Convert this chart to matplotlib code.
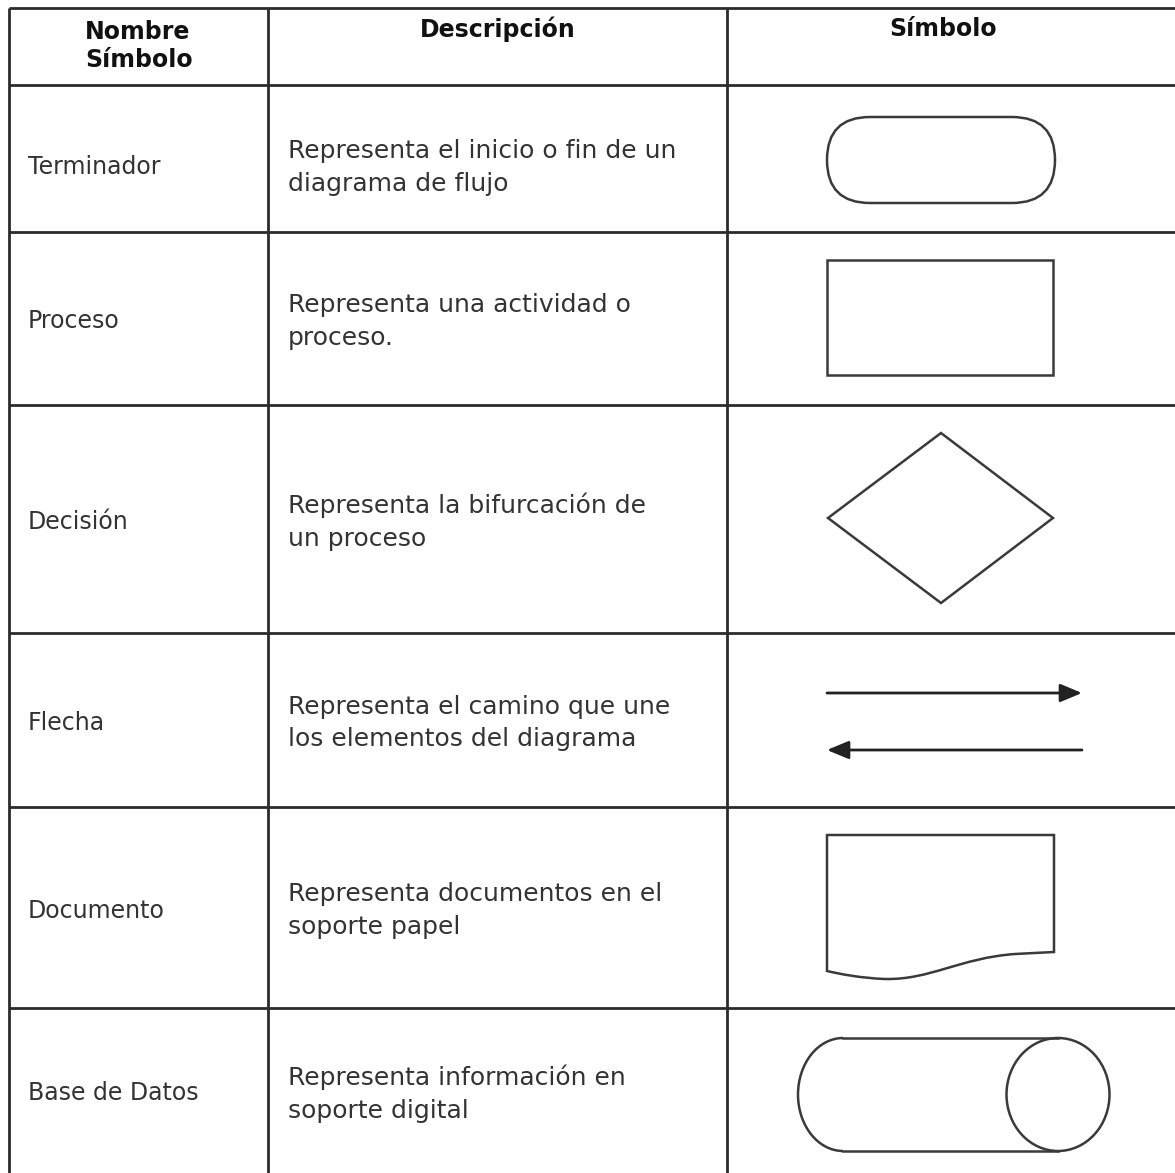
import numpy as np
import matplotlib
matplotlib.use('Agg')
import matplotlib.pyplot as plt
from matplotlib.patches import FancyBboxPatch, Rectangle, Polygon, Ellipse, Arc, PathPatch
from matplotlib.path import Path

# contenido de la tabla
encabezados = ['Nombre\nSímbolo', 'Descripción', 'Símbolo']
nombres = ['Terminador', 'Proceso', 'Decisión', 'Flecha', 'Documento', 'Base de Datos']
descripciones = ['Representa el inicio o fin de un\ndiagrama de flujo',
                 'Representa una actividad o\nproceso.',
                 'Representa la bifurcación de\nun proceso',
                 'Representa el camino que une\nlos elementos del diagrama',
                 'Representa documentos en el\nsoporte papel',
                 'Representa información en\nsoporte digital']

W, H = 1175, 1173
xs = [9, 268, 727]
ys = [8, 85, 232, 405, 633, 807, 1008, H]
lc = '#2b2b2b'
sc = '#3a3a3a'
tc = '#333333'

fig = plt.figure(figsize=(11.75, 11.73), dpi=100)
ax = fig.add_axes([0, 0, 1, 1])
ax.set_xlim(0, W)
ax.set_ylim(H, 0)
ax.axis('off')

# rejilla
for y in ys[:-1]:
    ax.plot([xs[0], W], [y, y], color=lc, lw=2, solid_capstyle='butt')
for x in xs:
    ax.plot([x, x], [ys[0], H], color=lc, lw=2, solid_capstyle='butt')

# encabezados
ax.text(85, 46, encabezados[0], fontsize=17, fontweight='bold', color='#111111',
        ha='left', va='center', multialignment='left', linespacing=1.2)
ax.text((xs[1]+xs[2])/2, 29, encabezados[1], fontsize=17, fontweight='bold', color='#111111',
        ha='center', va='center')
ax.text((xs[2]+W)/2 - 8, 29, encabezados[2], fontsize=17, fontweight='bold', color='#111111',
        ha='center', va='center')

# filas
for i in range(len(nombres)):
    yc = (ys[i+1]+ys[i+2])/2 + 3
    if i == 0:
        yc += 6
    ax.text(28, yc, nombres[i], fontsize=17, color=tc, ha='left', va='center')
    ax.text(288, yc, descripciones[i], fontsize=18, color=tc, ha='left', va='center', linespacing=1.45)

# simbolos
lw = 1.8
ax.add_patch(FancyBboxPatch((827, 117), 228, 86, boxstyle='round,pad=0,rounding_size=43',
                            fc='none', ec=sc, lw=lw))
ax.add_patch(Rectangle((827, 260), 226, 115, fc='none', ec=sc, lw=lw))
ax.add_patch(Polygon([(828, 518), (941, 433), (1053, 518), (941, 603)], closed=True,
                     fc='none', ec=sc, lw=lw))
ax.annotate('', xy=(1082, 693), xytext=(827, 693),
            arrowprops=dict(arrowstyle='-|>,head_length=0.6,head_width=0.25', color='#222222',
                            lw=2, mutation_scale=22, shrinkA=0, shrinkB=0))
ax.annotate('', xy=(827, 750), xytext=(1082, 750),
            arrowprops=dict(arrowstyle='-|>,head_length=0.6,head_width=0.25', color='#222222',
                            lw=2, mutation_scale=22, shrinkA=0, shrinkB=0))
verts = [(827, 835), (1054, 835), (1054, 952), (1015, 954),
         (960, 958), (930, 980), (885, 979),
         (860, 978), (840, 974), (827, 971), (827, 835)]
codes = [Path.MOVETO, Path.LINETO, Path.LINETO, Path.LINETO,
         Path.CURVE4, Path.CURVE4, Path.CURVE4,
         Path.CURVE4, Path.CURVE4, Path.CURVE4, Path.CLOSEPOLY]
ax.add_patch(PathPatch(Path(verts, codes), fc='none', ec=sc, lw=lw))
ax.plot([843, 1058], [1038, 1038], color=sc, lw=lw)
ax.plot([843, 1058], [1151, 1151], color=sc, lw=lw)
ax.add_patch(Arc((843, 1094.5), 90, 113, theta1=90, theta2=270, ec=sc, lw=lw))
ax.add_patch(Ellipse((1058, 1094.5), 103, 113, fc='none', ec=sc, lw=lw))

plt.savefig('out.png', dpi=100)
plt.close()
